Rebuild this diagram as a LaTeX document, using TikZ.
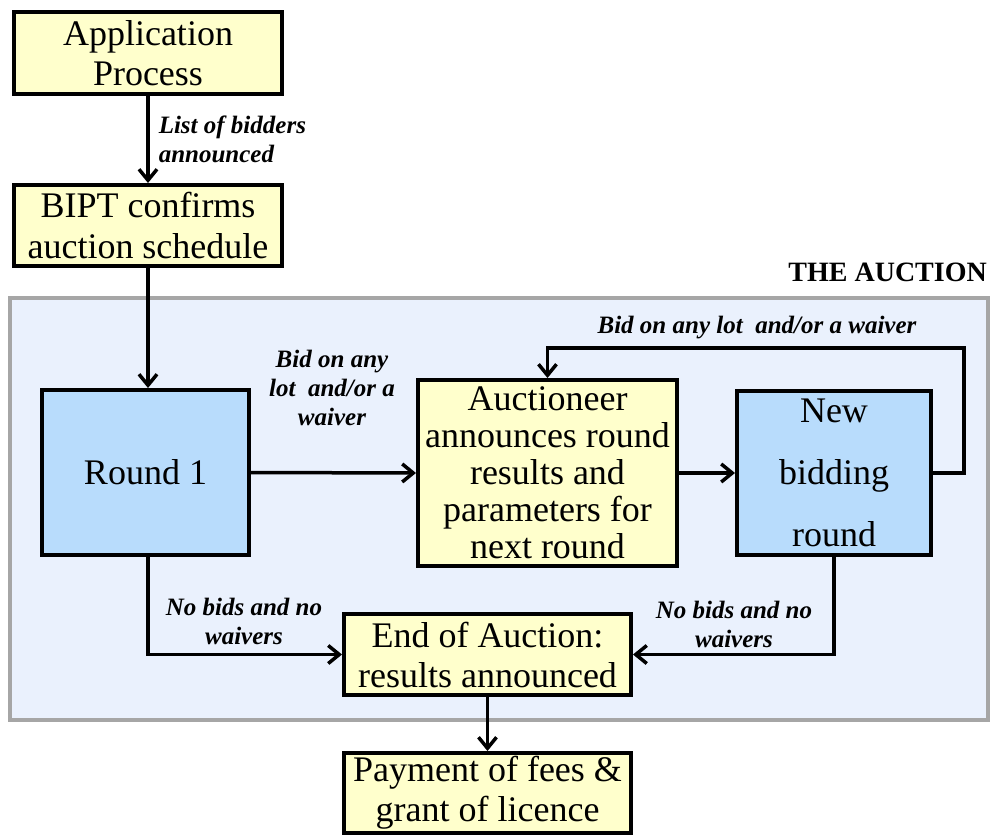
\documentclass[tikz,border=0pt]{standalone}
\usepackage{fontspec}
\setmainfont{Liberation Serif}
\usetikzlibrary{arrows.meta,positioning,calc}
\definecolor{boxyellow}{HTML}{FFFFCC}
\definecolor{boxblue}{HTML}{B8DCFC}
\definecolor{areablue}{HTML}{EAF1FD}
\definecolor{areagray}{HTML}{A6A6A6}
\tikzset{
  ybox/.style={draw=black, line width=4pt, fill=boxyellow, inner sep=0pt, align=center,
    font=\fontsize{36}{40}\selectfont},
  bbox/.style={draw=black, line width=4pt, fill=boxblue, inner sep=0pt, align=center,
    font=\fontsize{36}{40}\selectfont},
  arr/.style={line width=3.5pt, -{Straight Barb[length=11pt,width=18pt]}},
  lbl/.style={font=\fontsize{25}{29}\selectfont\bfseries\itshape, inner sep=0pt},
  area/.style={draw=areagray, line width=4pt, fill=areablue, inner sep=0pt},
  ttl/.style={font=\fontsize{28}{30}\selectfont\bfseries, inner sep=0pt}
}
\begin{document}
\begin{tikzpicture}[x=1pt,y=-1pt]
\useasboundingbox (0,0) rectangle (991,835);
% auction area
\node[area, minimum width=978pt, minimum height=422pt] (area) at (499,508.5) {};
\node[ttl, anchor=east] (title) at (987,272) {THE AUCTION};
% boxes
\node[ybox, minimum width=268pt, minimum height=82pt] (ap) at (148,53) {Application\\Process};
\node[ybox, minimum width=268pt, minimum height=81pt] (bipt) at (148,225.5) {BIPT confirms\\auction schedule};
\node[bbox, minimum width=207pt, minimum height=165pt] (r1) at (145.5,472.5) {Round 1};
\node[ybox, minimum width=259pt, minimum height=186pt, font=\fontsize{36}{37}\selectfont] (auc) at (547.5,473)
  {Auctioneer\\announces round\\results and\\parameters for\\next round};
\node[bbox, minimum width=194pt, minimum height=164pt, font=\fontsize{36}{62}\selectfont] (nb) at (834,473)
  {New\\bidding\\round};
\node[ybox, minimum width=287pt, minimum height=81pt] (end) at (487.5,654.5) {End of Auction:\\results announced};
\node[ybox, minimum width=287pt, minimum height=80pt] (pay) at (487.5,793) {Payment of fees \&\\grant of licence};
% connectors
\draw[arr] (ap.south) -- (bipt.north)
  node[lbl, midway, right=9pt, align=left] (l1) {List of bidders\\announced};
\draw[arr] (bipt.south) -- (bipt.south |- r1.north);
\draw[arr] (r1.east) -- (auc.west);
\node[lbl, align=center] (l2) at (332,388) {Bid on any\\lot\ \ and/or a\\waiver};
\draw[arr] (auc.east) -- (nb.west);
\draw[arr] (nb.east) -- ++(31,0) |- ([yshift=30pt]auc.north) -- (auc.north);
\node[lbl] (l3) at (757,328) {Bid on any lot\ \ and/or a waiver};
\draw[arr] (bipt.south |- r1.south) |- (end.west);
\node[lbl, align=center] (l4) at (244,621) {No bids and no\\waivers};
\draw[arr] (nb.south) |- (end.east);
\node[lbl, align=center] (l5) at (734,624) {No bids and no\\waivers};
\draw[arr] (end.south) -- (pay.north);
\end{tikzpicture}
\end{document}
